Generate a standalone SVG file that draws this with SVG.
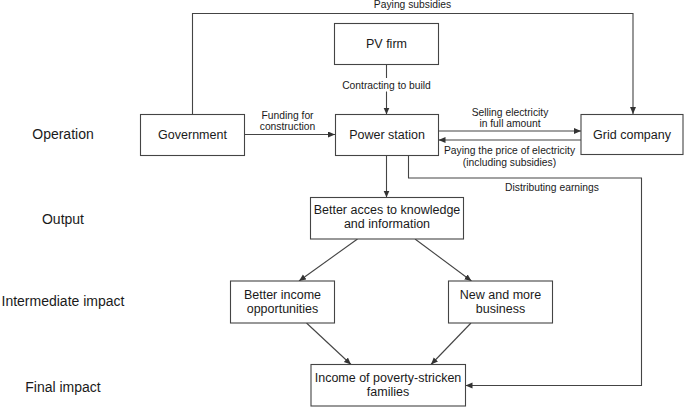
<svg xmlns="http://www.w3.org/2000/svg" width="685" height="407" viewBox="0 0 685 407">
<style>
.box{fill:#fff;stroke:#444;stroke-width:1.1}
.nt{font-family:"Liberation Sans",Arial,sans-serif;font-size:12.5px;fill:#1a1a1a;text-anchor:middle}
.lt{font-family:"Liberation Sans",Arial,sans-serif;font-size:10.3px;fill:#1a1a1a;text-anchor:middle}
.st{font-family:"Liberation Sans",Arial,sans-serif;font-size:14px;fill:#1a1a1a;text-anchor:middle}
.ln{fill:none;stroke:#444;stroke-width:1.1}
.ar{marker-end:url(#ah)}
</style>
<defs>
<marker id="ah" markerUnits="userSpaceOnUse" markerWidth="8" markerHeight="7" refX="7" refY="3" orient="auto">
<path d="M0,0 L7,3 L0,6 z" fill="#333"/>
</marker>
</defs>
<g id="stage-labels">
<text class="st" x="63" y="139">Operation</text>
<text class="st" x="63" y="224">Output</text>
<text class="st" x="63" y="306">Intermediate impact</text>
<text class="st" x="63" y="392">Final impact</text>
</g>
<g id="connectors">
<polyline class="ln ar" points="192.5,114.5 192.5,13.5 633,13.5 633,114"/>
<text class="lt" x="412.5" y="8">Paying subsidies</text>
<line class="ln" x1="386.5" y1="64.5" x2="386.5" y2="78"/>
<line class="ln ar" x1="386.5" y1="91.5" x2="386.5" y2="114.5"/>
<text class="lt" x="386.5" y="89">Contracting to build</text>
<line class="ln ar" x1="244.5" y1="134.5" x2="335" y2="134.5"/>
<text class="lt" x="287.5" y="118.5">Funding for</text>
<text class="lt" x="287.5" y="129.5">construction</text>
<line class="ln ar" x1="438.5" y1="131" x2="581" y2="131"/>
<text class="lt" x="510" y="115.5">Selling electricity</text>
<text class="lt" x="510" y="126.5">in full amount</text>
<line class="ln ar" x1="581" y1="140" x2="438.5" y2="140"/>
<text class="lt" x="509.5" y="153.5">Paying the price of electricity</text>
<text class="lt" x="509.5" y="165.5">(including subsidies)</text>
<line class="ln ar" x1="386.5" y1="155.5" x2="386.5" y2="197.5"/>
<polyline class="ln ar" points="408.5,155.5 408.5,178 641.5,178 641.5,385.5 465.5,385.5"/>
<text class="lt" x="552" y="191">Distributing earnings</text>
<line class="ln ar" x1="357.5" y1="239" x2="299" y2="281"/>
<line class="ln ar" x1="415" y1="239" x2="471.5" y2="281"/>
<line class="ln ar" x1="306.5" y1="323" x2="351" y2="364.5"/>
<line class="ln ar" x1="471" y1="323" x2="431" y2="364.5"/>
</g>
<g id="pv-firm">
<rect class="box" x="334.5" y="23.5" width="104" height="41"/>
<text class="nt" x="386.5" y="48">PV firm</text>
</g>
<g id="government">
<rect class="box" x="140.5" y="114.5" width="104" height="41"/>
<text class="nt" x="192.5" y="139">Government</text>
</g>
<g id="power-station">
<rect class="box" x="335.5" y="114.5" width="103" height="41"/>
<text class="nt" x="387" y="139">Power station</text>
</g>
<g id="grid-company">
<rect class="box" x="581" y="114.5" width="102" height="40"/>
<text class="nt" x="632" y="139">Grid company</text>
</g>
<g id="output">
<rect class="box" x="310.5" y="197.5" width="153" height="41.5"/>
<text class="nt" x="387" y="213.5">Better acces to knowledge</text>
<text class="nt" x="387" y="228">and information</text>
</g>
<g id="income-opportunities">
<rect class="box" x="230.5" y="281" width="104" height="42"/>
<text class="nt" x="282.5" y="298.5">Better income</text>
<text class="nt" x="282.5" y="313">opportunities</text>
</g>
<g id="new-business">
<rect class="box" x="448.5" y="281" width="104" height="42"/>
<text class="nt" x="500.5" y="298.5">New and more</text>
<text class="nt" x="500.5" y="313">business</text>
</g>
<g id="final-income">
<rect class="box" x="311" y="364.5" width="154.5" height="41.5"/>
<text class="nt" x="388" y="382">Income of poverty-stricken</text>
<text class="nt" x="388" y="396">families</text>
</g>
</svg>
